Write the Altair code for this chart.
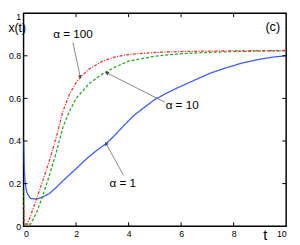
import altair as alt
import pandas as pd
import math

# ---- data ----
t_blue = [0, 0.02, 0.05, 0.1, 0.15, 0.27, 0.5, 0.75, 1.0, 1.25, 1.5, 2.0, 2.43, 2.8, 3.17,
          3.5, 3.8, 4.2, 4.64, 5.0, 5.5, 5.87, 6.5, 7.1, 7.7, 8.32, 9.0, 9.5, 10]
x_blue = [0.40, 0.30, 0.218, 0.17, 0.151, 0.13, 0.127, 0.138, 0.155, 0.183, 0.213, 0.27, 0.32,
          0.357, 0.39, 0.43, 0.47, 0.52, 0.562, 0.595, 0.628, 0.65, 0.685, 0.718, 0.743,
          0.766, 0.784, 0.794, 0.80]

t_green = [0, 0.02, 0.27, 0.5, 0.75, 1.0, 1.25, 1.5, 1.75, 2.0, 2.5, 3.0, 3.5, 4.0, 5.0,
           6.0, 7.0, 8.0, 9.0, 10]
x_green = [0.17, 0.01, 0.01, 0.065, 0.15, 0.245, 0.35, 0.465, 0.54, 0.60, 0.67, 0.715,
           0.748, 0.775, 0.798, 0.81, 0.816, 0.82, 0.822, 0.823]

t_red = [0, 0.02, 0.15, 0.3, 0.5, 0.75, 1.0, 1.25, 1.5, 1.75, 2.0, 2.25, 2.5, 3.0, 3.5,
         4.0, 5.0, 6.0, 7.0, 8.0, 10]
x_red = [0.10, 0.01, 0.01, 0.06, 0.13, 0.22, 0.315, 0.42, 0.54, 0.62, 0.675, 0.71, 0.738,
         0.775, 0.795, 0.806, 0.816, 0.82, 0.822, 0.823, 0.825]

x_ticks = [0, 2, 4, 6, 8, 10]
y_ticks = [0, 0.2, 0.4, 0.6, 0.8, 1]

# annotations (data coordinates)
ann_text = ["α = 100", "α = 10", "α = 1"]
ann_t = [1.88, 5.41, 3.78]
ann_x = [0.902, 0.569, 0.203]
ann_align = ["center", "left", "center"]
arr_tail_t = [1.88, 5.38, 3.80]
arr_tail_x = [0.862, 0.582, 0.24]
arr_tip_t = [2.16, 3.17, 3.14]
arr_tip_x = [0.70, 0.72, 0.388]

W, H = 270, 219
FONT = "Liberation Sans"

sx = alt.Scale(domain=[0, 10], nice=False, zero=False)
sy = alt.Scale(domain=[0, 1], nice=False, zero=False)

x_axis = alt.Axis(values=x_ticks, tickSize=0, domain=False, grid=False, labelFontSize=9,
                  labelPadding=4, labelColor="black", labelFont=FONT, title="t",
                  titleFont=FONT, titleFontSize=15, titleFontWeight="normal",
                  titleX=248, titleY=9, titleAlign="center", titleBaseline="middle",
                  titleColor="black", format="d")
y_axis = alt.Axis(values=y_ticks, tickSize=0, domain=False, grid=False, labelFontSize=9,
                  labelPadding=3, labelColor="black", labelFont=FONT, format="~g",
                  labelOverlap=False,
                  labelBaseline={"condition": {"test": "datum.value >= 1", "value": "top"},
                                 "value": "middle"},
                  labelOffset={"condition": {"test": "datum.value >= 1", "value": -1},
                               "value": 0},
                  title="x(t)", titleFont=FONT, titleFontSize=12.5, titleFontWeight="normal",
                  titleAngle=0, titleX=-7, titleY=15, titleAlign="center",
                  titleBaseline="middle", titleColor="black")


def series(t, x, color, dash):
    df = pd.DataFrame({"t": t, "x": x})
    return alt.Chart(df).mark_line(color=color, strokeWidth=1.3, strokeDash=dash,
                                   clip=True).encode(
        x=alt.X("t:Q", scale=sx, axis=x_axis),
        y=alt.Y("x:Q", scale=sy, axis=y_axis),
    )


blue = series(t_blue, x_blue, "#3a5cf5", [1, 0])
green = series(t_green, x_green, "#22a822", [3, 2])
red = series(t_red, x_red, "#ff2a2a", [3, 1.5, 1, 1.5])

# inward tick marks
tx = pd.DataFrame({"v": x_ticks[1:-1]})
ty = pd.DataFrame({"v": y_ticks[1:-1]})
tick_bottom = alt.Chart(tx).mark_rule(color="black", strokeWidth=1).encode(
    x=alt.X("v:Q", scale=sx), y=alt.value(H), y2=alt.value(H - 4))
tick_top = alt.Chart(tx).mark_rule(color="black", strokeWidth=1).encode(
    x=alt.X("v:Q", scale=sx), y=alt.value(0), y2=alt.value(4))
tick_left = alt.Chart(ty).mark_rule(color="black", strokeWidth=1).encode(
    y=alt.Y("v:Q", scale=sy), x=alt.value(0), x2=alt.value(4))
tick_right = alt.Chart(ty).mark_rule(color="black", strokeWidth=1).encode(
    y=alt.Y("v:Q", scale=sy), x=alt.value(W), x2=alt.value(W - 4))

# arrows
angles = []
for a, b, c, d in zip(arr_tail_t, arr_tail_x, arr_tip_t, arr_tip_x):
    dx = (c - a) * W / 10.0
    dy = -(d - b) * H
    angles.append((math.degrees(math.atan2(dx, -dy)) + 360) % 360)
arr = pd.DataFrame({"t0": arr_tail_t, "x0": arr_tail_x, "t1": arr_tip_t,
                    "x1": arr_tip_x, "ang": angles})
arrow_lines = alt.Chart(arr).mark_rule(color="#666666", strokeWidth=0.8).encode(
    x=alt.X("t0:Q", scale=sx), y=alt.Y("x0:Q", scale=sy),
    x2="t1:Q", y2="x1:Q")
arrow_heads = alt.Chart(arr).mark_point(shape="triangle-up", filled=True, color="#444444",
                                        size=18, opacity=1).encode(
    x=alt.X("t1:Q", scale=sx), y=alt.Y("x1:Q", scale=sy),
    angle=alt.Angle("ang:Q", scale=None))

ann = pd.DataFrame({"txt": ann_text, "t": ann_t, "x": ann_x, "al": ann_align})
labels_c = alt.Chart(ann[ann.al == "center"]).mark_text(
    font=FONT, fontSize=12, color="black", align="center", baseline="middle").encode(
    x=alt.X("t:Q", scale=sx), y=alt.Y("x:Q", scale=sy), text="txt:N")
labels_l = alt.Chart(ann[ann.al == "left"]).mark_text(
    font=FONT, fontSize=12, color="black", align="left", baseline="middle").encode(
    x=alt.X("t:Q", scale=sx), y=alt.Y("x:Q", scale=sy), text="txt:N")

panel = pd.DataFrame({"txt": ["(c)"], "t": [9.49], "x": [0.936]})
panel_label = alt.Chart(panel).mark_text(font=FONT, fontSize=13, color="black",
                                         align="center", baseline="middle").encode(
    x=alt.X("t:Q", scale=sx), y=alt.Y("x:Q", scale=sy), text="txt:N")

chart = alt.layer(
    blue, green, red, arrow_lines, arrow_heads, labels_c, labels_l, panel_label,
    tick_bottom, tick_top, tick_left, tick_right,
).properties(
    width=W, height=H,
    autosize=alt.AutoSizeParams(type="none"),
    padding={"left": 16, "top": 2, "right": 6, "bottom": 16},
    background="white",
).configure_view(stroke="black", strokeWidth=1.5)

chart.save("out.html", embed_options={"renderer": "svg", "actions": False})
